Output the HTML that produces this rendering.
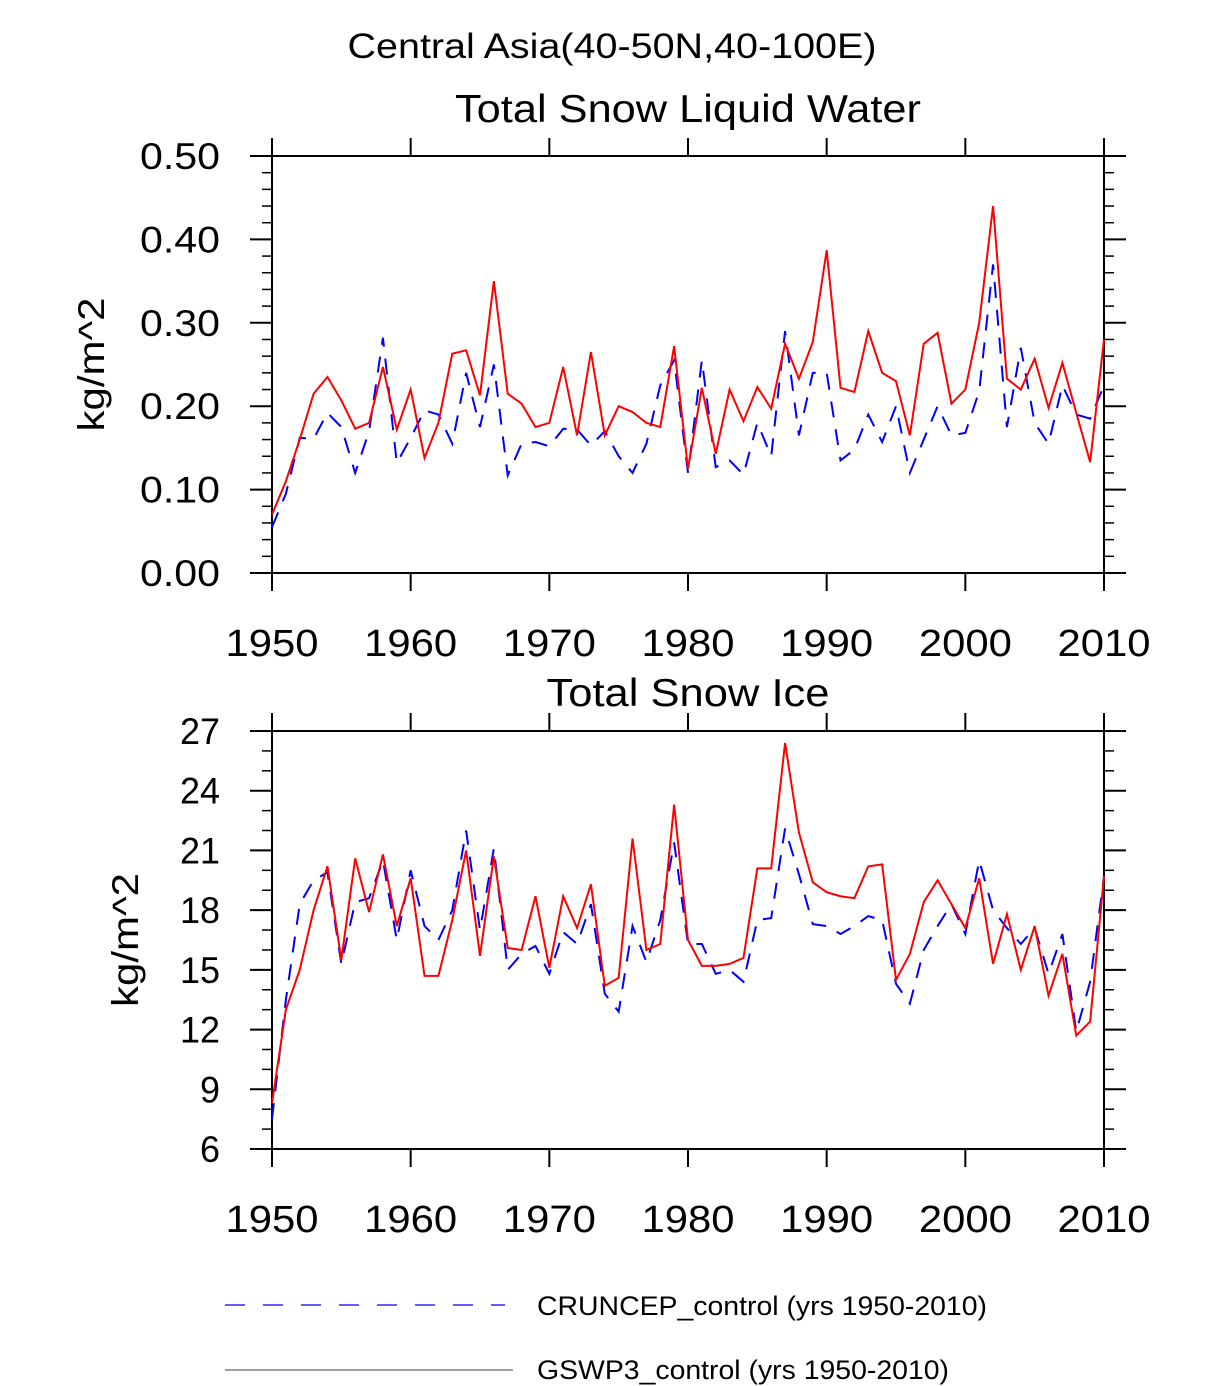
<!DOCTYPE html>
<html><head><meta charset="utf-8"><style>
body{margin:0;background:#fff;}
svg{display:block;font-family:"Liberation Sans",sans-serif;}
</style></head><body>
<svg id="chart" width="1224" height="1386" viewBox="0 0 1224 1386" xmlns="http://www.w3.org/2000/svg">
<text x="612" y="58" font-size="35" text-anchor="middle" textLength="529" lengthAdjust="spacingAndGlyphs">Central Asia(40-50N,40-100E)</text>
<g id="p1"></g>
<g id="p2"></g>
<g>
<line x1="225" y1="1305" x2="505" y2="1305" stroke="#00f" stroke-width="1.3" stroke-dasharray="20,18"/>
<text x="537" y="1315" font-size="27" textLength="450" lengthAdjust="spacingAndGlyphs">CRUNCEP_control (yrs 1950-2010)</text>
<line x1="225" y1="1370" x2="513" y2="1370" stroke="#000" stroke-width="0.8"/>
<text x="537" y="1379" font-size="27" textLength="412" lengthAdjust="spacingAndGlyphs">GSWP3_control (yrs 1950-2010)</text>
</g>
</svg>
<script>
const years = [];
for (let y = 1950; y <= 2010; y++) years.push(y);
const xTicks = [1950,1960,1970,1980,1990,2000,2010];
const lwRed = [0.07,0.11,0.16,0.215,0.235,0.207,0.173,0.18,0.247,0.172,0.22,0.138,0.18,0.263,0.267,0.213,0.35,0.215,0.203,0.175,0.18,0.247,0.165,0.265,0.165,0.2,0.193,0.18,0.175,0.272,0.125,0.222,0.143,0.22,0.182,0.223,0.197,0.275,0.233,0.277,0.387,0.222,0.217,0.29,0.24,0.23,0.165,0.275,0.288,0.203,0.22,0.3,0.44,0.233,0.22,0.257,0.198,0.252,0.192,0.133,0.28];
const lwBlue = [0.055,0.095,0.162,0.161,0.192,0.175,0.12,0.17,0.282,0.132,0.162,0.195,0.19,0.155,0.24,0.175,0.25,0.117,0.155,0.157,0.152,0.173,0.172,0.153,0.17,0.14,0.12,0.155,0.225,0.255,0.12,0.255,0.127,0.135,0.118,0.18,0.14,0.29,0.165,0.24,0.24,0.135,0.148,0.19,0.157,0.2,0.12,0.16,0.2,0.165,0.168,0.218,0.37,0.175,0.27,0.18,0.155,0.225,0.19,0.185,0.225];
const lwTicks = ["0.00","0.10","0.20","0.30","0.40","0.50"];
const iceRed = [8.3,13,15,18,20.2,15.5,20.6,17.9,20.8,17.2,19.6,14.7,14.7,17.5,21,15.7,20.7,16.1,16,18.7,15.1,18.7,17.1,19.3,14.2,14.6,21.6,16,16.3,23.3,16.5,15.2,15.2,15.3,15.6,20.1,20.1,26.4,21.9,19.4,18.9,18.7,18.6,20.2,20.3,14.5,15.8,18.4,19.5,18.3,17.1,19.6,15.3,17.8,15,17.2,13.7,15.8,11.7,12.4,19.7];
const iceBlue = [7.5,13.5,18.3,19.5,19.9,15.3,18.4,18.6,20.5,16.5,20,17.2,16.5,18,22,17,21.1,15,15.8,16.2,14.8,16.9,16.3,18.3,13.8,12.9,17.2,15.4,17.5,21.4,16.3,16.3,14.8,15,14.4,17.5,17.6,22.1,19.8,17.3,17.2,16.8,17.2,17.7,17.5,14.3,13.3,16,17.2,18.3,16.8,20.5,18,17.1,16.3,17.1,14.8,16.8,11.9,14.4,19.7];
const iceTicks = ["6","9","12","15","18","21","24","27"];

const NS = "http://www.w3.org/2000/svg";
function mk(parent, tag, attrs){const e=document.createElementNS(NS,tag);for(const k in attrs)e.setAttribute(k,attrs[k]);parent.appendChild(e);return e;}
const X0=272,X1=1104;
function xs(v){return X0+(v-1950)/60*(X1-X0);}

function panel(g, top, bot, ymin, ymax, ticks, minorStep, title, titleW, titleY, ytitleX, red, blue, xlabY){
  const ys=v=>bot-(v-ymin)/(ymax-ymin)*(bot-top);
  const fr=mk(g,'rect',{x:X0,y:top,width:X1-X0,height:bot-top,fill:'none',stroke:'#000','stroke-width':2});
  
  
  for(let v=ymin;v<=ymax+1e-9;v+=minorStep){
    const y=ys(v);
    mk(g,'line',{x1:X0-10,y1:y,x2:X0,y2:y,stroke:'#000','stroke-width':1.5});
    mk(g,'line',{x1:X1,y1:y,x2:X1+10,y2:y,stroke:'#000','stroke-width':1.5});
  }
  ticks.forEach(t=>{
    const y=ys(parseFloat(t));
    mk(g,'line',{x1:X0-22,y1:y,x2:X0,y2:y,stroke:'#000','stroke-width':2});
    mk(g,'line',{x1:X1,y1:y,x2:X1+22,y2:y,stroke:'#000','stroke-width':2});
    const tx=mk(g,'text',{x:220,y:y+13,'font-size':37,'text-anchor':'end',textLength:t.length*20,lengthAdjust:'spacingAndGlyphs'});
    tx.textContent=t;
    
    
  });
  xTicks.forEach(t=>{
    const x=xs(t);
    mk(g,'line',{x1:x,y1:bot,x2:x,y2:bot+18,stroke:'#000','stroke-width':2});
    mk(g,'line',{x1:x,y1:top-18,x2:x,y2:top,stroke:'#000','stroke-width':2});
    const tx=mk(g,'text',{x:x,y:xlabY,'font-size':38,'text-anchor':'middle',textLength:93,lengthAdjust:'spacingAndGlyphs'});
    tx.textContent=t;
    
    
  });
  const tt=mk(g,'text',{x:688,y:titleY,'font-size':39,'text-anchor':'middle',textLength:titleW,lengthAdjust:'spacingAndGlyphs'});
  tt.textContent=title;
  
  
  const cy=(top+bot)/2;
  const yt=mk(g,'text',{x:ytitleX,y:cy,'font-size':37,'text-anchor':'middle',transform:`rotate(-90 ${ytitleX} ${cy})`,textLength:134,lengthAdjust:'spacingAndGlyphs'});
  yt.textContent='kg/m^2';
  
  
  const pb=mk(g,'polyline',{points:blue.map((v,i)=>xs(years[i])+','+ys(v)).join(' '),fill:'none',stroke:'#00f','stroke-width':2,'stroke-dasharray':'16,12'});
  
  
  const pr=mk(g,'polyline',{points:red.map((v,i)=>xs(years[i])+','+ys(v)).join(' '),fill:'none',stroke:'#f00','stroke-width':2});
  
  
}
panel(document.getElementById('p1'),156,573,0,0.5,lwTicks,0.02,'Total Snow Liquid Water',466,122,104,lwRed,lwBlue,656);
panel(document.getElementById('p2'),731,1149,6,27,iceTicks,1,'Total Snow Ice',283,706,138,iceRed,iceBlue,1232);
</script>
</body></html>
